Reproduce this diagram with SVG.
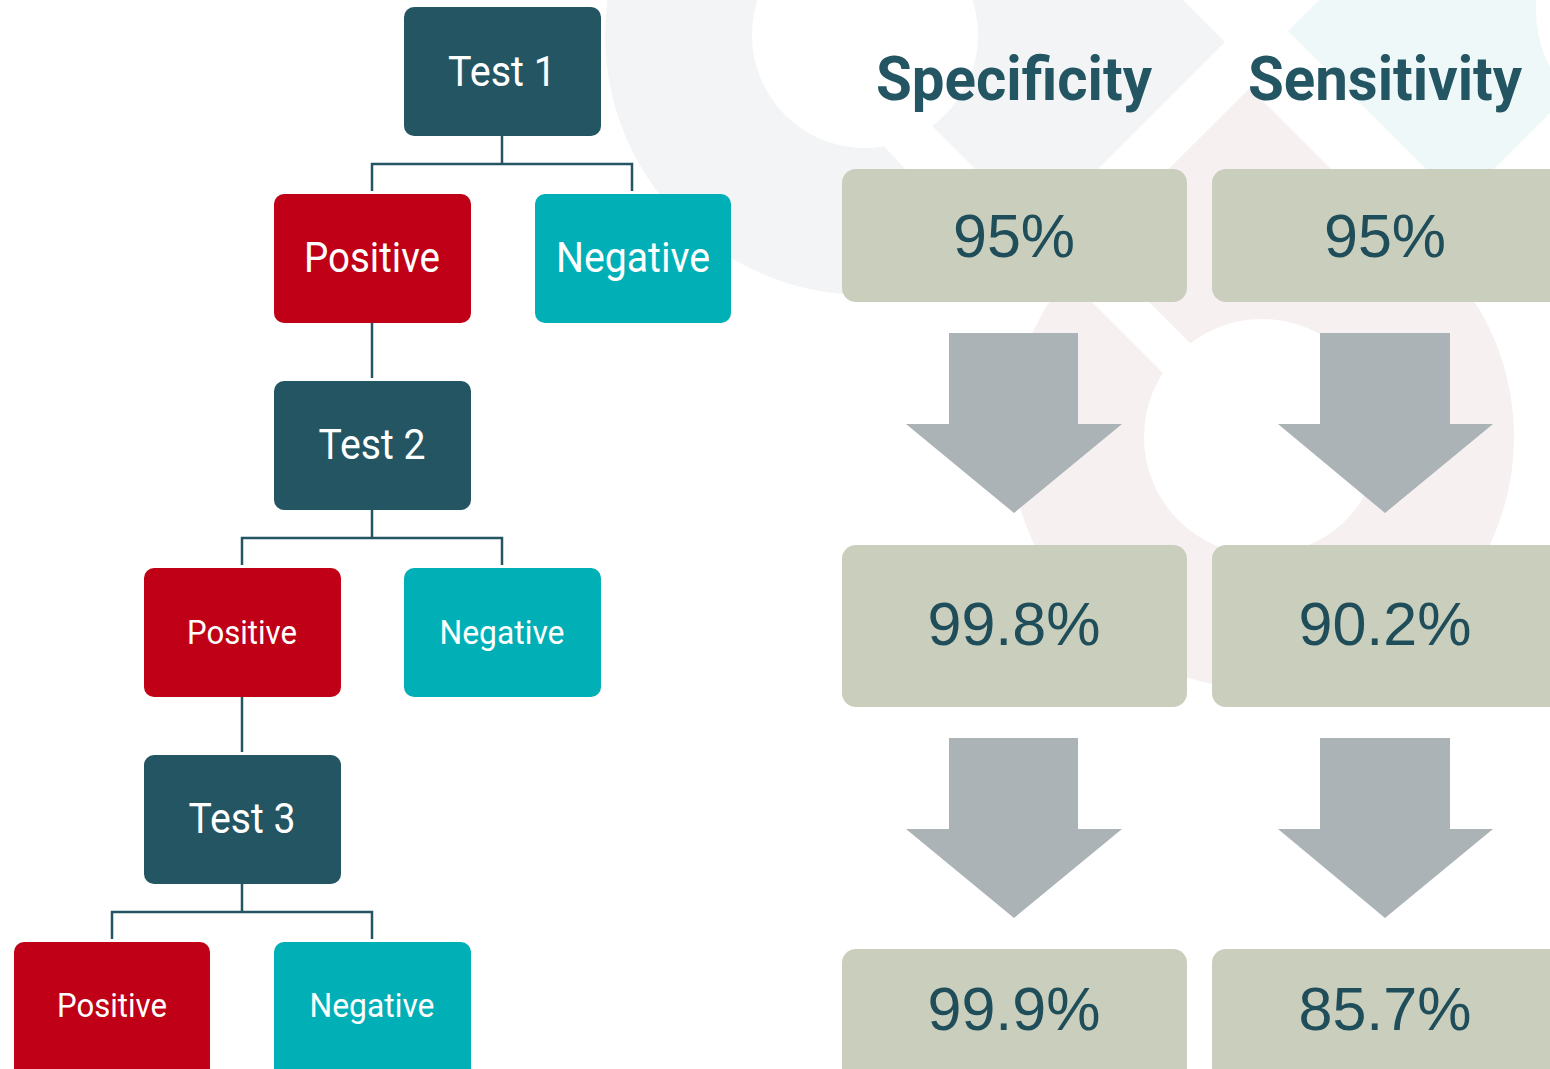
<svg xmlns="http://www.w3.org/2000/svg" width="1550" height="1069" viewBox="0 0 1550 1069">
  <style>
    .dark { fill: #245563; }
    .pos { fill: #c00016; }
    .neg { fill: #00b0b6; }
    .pct { fill: #cacebd; }
    .arrow { fill: #abb3b6; }
    .lbl { fill: #ffffff; font-family: Roboto, "Liberation Sans", sans-serif; text-anchor: middle; }
    .big { font-size: 43px; }
    .small { font-size: 33px; }
    .head { fill: #245563; font-family: Roboto, "Liberation Sans", sans-serif; font-weight: 700; font-size: 62px; text-anchor: middle; }
    .num { fill: #1f4d59; font-family: "Liberation Sans", Arial, sans-serif; font-size: 61px; text-anchor: middle; }
    .conn { fill: none; stroke: #245563; stroke-width: 2.5; }
  </style>

  <rect width="1550" height="1069" fill="#ffffff"/>

  <!-- faint background logo shapes -->
  <g id="background">
    <circle cx="865" cy="35" r="260" fill="#f3f4f6"/>
    <polygon points="1225,42 1035,-148 845,42 1035,232" fill="#f3f4f6"/>
    <circle cx="865" cy="35" r="113" fill="#ffffff"/>
    <polygon points="880,142 930,124 975,169 905,169" fill="#ffffff"/>

    <circle cx="1262" cy="437" r="252" fill="#f7f0f1"/>
    <polygon points="1250,88 1407,245 1250,403 1092,245" fill="#f7f0f1"/>
    <polygon points="1080,290 1137,290 1235,388 1178,388" fill="#ffffff"/>
    <circle cx="1262" cy="437" r="118" fill="#ffffff"/>

    <polygon points="1288,31 1460,-140 1632,31 1460,203" fill="#eff8f8"/>
    <circle cx="1660" cy="10" r="124" fill="#ffffff"/>
  </g>

  <!-- connectors -->
  <g id="connectors">
    <path class="conn" d="M502,136 V164 M372,191 V164 H632 V191"/>
    <path class="conn" d="M372,323 V378"/>
    <path class="conn" d="M372,510 V538 M242,565 V538 H502 V565"/>
    <path class="conn" d="M242,697 V752"/>
    <path class="conn" d="M242,884 V912 M112,939 V912 H372 V939"/>
  </g>

  <!-- tree nodes -->
  <g id="test1">
    <rect class="dark" x="404" y="7" width="197" height="129" rx="10"/>
    <text class="lbl big" x="502" y="86" textLength="108" lengthAdjust="spacingAndGlyphs">Test 1</text>
  </g>
  <g id="positive1">
    <rect class="pos" x="274" y="194" width="197" height="129" rx="10"/>
    <text class="lbl big" x="372" y="272" textLength="136" lengthAdjust="spacingAndGlyphs">Positive</text>
  </g>
  <g id="negative1">
    <rect class="neg" x="535" y="194" width="196" height="129" rx="10"/>
    <text class="lbl big" x="633" y="272" textLength="154" lengthAdjust="spacingAndGlyphs">Negative</text>
  </g>
  <g id="test2">
    <rect class="dark" x="274" y="381" width="197" height="129" rx="10"/>
    <text class="lbl big" x="372" y="459" textLength="107" lengthAdjust="spacingAndGlyphs">Test 2</text>
  </g>
  <g id="positive2">
    <rect class="pos" x="144" y="568" width="197" height="129" rx="10"/>
    <text class="lbl small" x="242" y="644" textLength="110" lengthAdjust="spacingAndGlyphs">Positive</text>
  </g>
  <g id="negative2">
    <rect class="neg" x="404" y="568" width="197" height="129" rx="10"/>
    <text class="lbl small" x="502" y="644" textLength="125" lengthAdjust="spacingAndGlyphs">Negative</text>
  </g>
  <g id="test3">
    <rect class="dark" x="144" y="755" width="197" height="129" rx="10"/>
    <text class="lbl big" x="242" y="833" textLength="107" lengthAdjust="spacingAndGlyphs">Test 3</text>
  </g>
  <g id="positive3">
    <rect class="pos" x="14" y="942" width="196" height="140" rx="10"/>
    <text class="lbl small" x="112" y="1017" textLength="110" lengthAdjust="spacingAndGlyphs">Positive</text>
  </g>
  <g id="negative3">
    <rect class="neg" x="274" y="942" width="197" height="140" rx="10"/>
    <text class="lbl small" x="372" y="1017" textLength="125" lengthAdjust="spacingAndGlyphs">Negative</text>
  </g>

  <!-- headings -->
  <g id="heading-specificity">
    <text class="head" x="1014" y="100" textLength="276" lengthAdjust="spacingAndGlyphs">Specificity</text>
  </g>
  <g id="heading-sensitivity">
    <text class="head" x="1385" y="100" textLength="274" lengthAdjust="spacingAndGlyphs">Sensitivity</text>
  </g>

  <!-- percentage boxes -->
  <g id="spec1">
    <rect class="pct" x="842" y="169" width="345" height="133" rx="14"/>
    <text class="num" x="1014" y="257">95%</text>
  </g>
  <g id="sens1">
    <rect class="pct" x="1212" y="169" width="360" height="133" rx="14"/>
    <text class="num" x="1385" y="257">95%</text>
  </g>
  <g id="spec2">
    <rect class="pct" x="842" y="545" width="345" height="162" rx="14"/>
    <text class="num" x="1014" y="645">99.8%</text>
  </g>
  <g id="sens2">
    <rect class="pct" x="1212" y="545" width="360" height="162" rx="14"/>
    <text class="num" x="1385" y="645">90.2%</text>
  </g>
  <g id="spec3">
    <rect class="pct" x="842" y="949" width="345" height="140" rx="14"/>
    <text class="num" x="1014" y="1030">99.9%</text>
  </g>
  <g id="sens3">
    <rect class="pct" x="1212" y="949" width="360" height="140" rx="14"/>
    <text class="num" x="1385" y="1030">85.7%</text>
  </g>

  <!-- block arrows -->
  <g id="arrows">
    <polygon class="arrow" points="949,333 1078,333 1078,424 1122,424 1014,513 906,424 949,424"/>
    <polygon class="arrow" points="1320,333 1450,333 1450,424 1493,424 1385,513 1278,424 1320,424"/>
    <polygon class="arrow" points="949,738 1078,738 1078,829 1122,829 1014,918 906,829 949,829"/>
    <polygon class="arrow" points="1320,738 1450,738 1450,829 1493,829 1385,918 1278,829 1320,829"/>
  </g>
</svg>
